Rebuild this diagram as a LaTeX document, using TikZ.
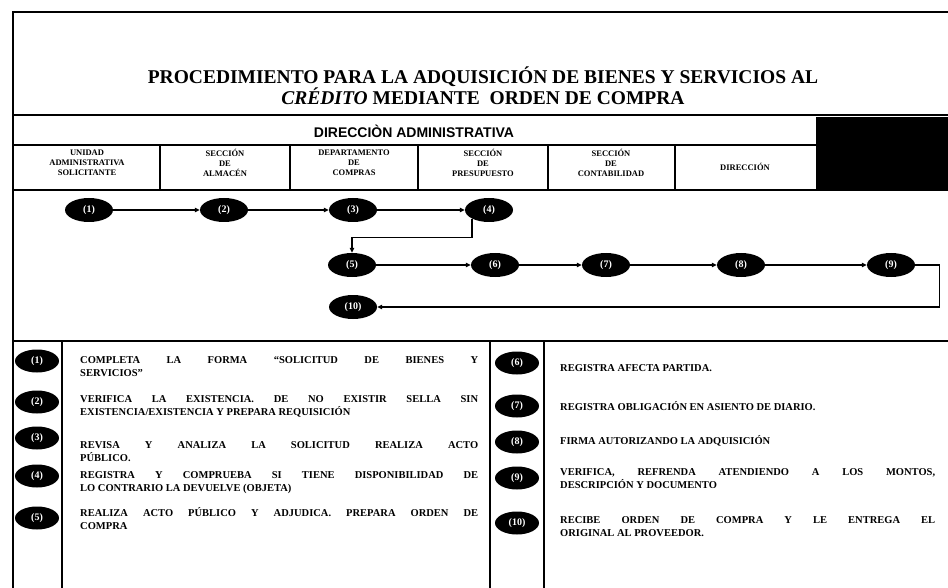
\documentclass[tikz,border=0pt]{standalone}
\usepackage{fontspec}
\setmainfont{Liberation Serif}
\newfontfamily\arialfont{Liberation Sans}
\usetikzlibrary{arrows.meta, positioning, calc, shapes.geometric}

\begin{document}
\begin{tikzpicture}[x=1pt, y=-1pt,
    paso/.style={ellipse, fill=black, text=white, inner sep=0pt,
                 minimum width=48pt, minimum height=24pt,
                 font=\fontsize{10}{10}\selectfont\bfseries},
    pasochico/.style={paso, minimum width=44pt, minimum height=23pt},
    flecha/.style={-{Triangle[length=5pt, width=4.5pt]}, line width=1.4pt},
    marco/.style={line width=1.8pt},
    encab/.style={align=center, inner sep=0pt,
                  font=\fontsize{8.5}{10}\selectfont\bfseries},
    texto/.style={align=justify, anchor=north west, inner sep=0pt,
                  font=\fontsize{10.5}{13}\selectfont\bfseries}
  ]
  \useasboundingbox (0,0) rectangle (948,588);
  \draw[marco] (948,12) -- (13,12) -- (13,588);
  \node[font=\fontsize{19.5}{21}\selectfont\bfseries, align=center] (titulo) at (483,86)
    {PROCEDIMIENTO PARA LA ADQUISICIÓN DE BIENES Y SERVICIOS AL\\
     \textit{CRÉDITO} MEDIANTE \ ORDEN DE COMPRA};
  \draw[marco] (13,115) -- (948,115);
  \fill (816,117) rectangle (948,190);
  \draw[marco] (13,145) -- (816,145);
  \node[font=\arialfont\fontsize{14}{14}\selectfont\bfseries] (direccion) at (414,131)
    {DIRECCIÒN ADMINISTRATIVA};
  \foreach \x in {160,290,418,548,675}
    \draw[marco] (\x,145) -- (\x,190);
  \draw[marco] (13,190) -- (948,190);
  \node[encab] (uas) at (87,163) {UNIDAD\\ADMINISTRATIVA\\SOLICITANTE};
  \node[encab] (alm) at (225,163) {SECCIÓN\\DE\\ALMACÉN};
  \node[encab] (com) at (354,163) {DEPARTAMENTO\\DE\\COMPRAS};
  \node[encab] (pre) at (483,163) {SECCIÓN\\DE\\PRESUPUESTO};
  \node[encab] (cont) at (611,163) {SECCIÓN\\DE\\CONTABILIDAD};
  \node[encab] (dir) at (745,167) {DIRECCIÓN};

  \node[paso] (p1) at (89,210) {(1)};
  \node[paso] (p2) at (224,210) {(2)};
  \node[paso] (p3) at (353,210) {(3)};
  \node[paso] (p4) at (489,210) {(4)};
  \node[paso] (p5) at (352,265) {(5)};
  \node[paso] (p6) at (495,265) {(6)};
  \node[paso] (p7) at (606,265) {(7)};
  \node[paso] (p8) at (741,265) {(8)};
  \node[paso] (p9) at (891,265) {(9)};
  \node[paso] (p10) at (353,307) {(10)};
  \draw[flecha] (p1) -- (p2);
  \draw[flecha] (p2) -- (p3);
  \draw[flecha] (p3) -- (p4);
  \draw[flecha] (p4.south west) |- ($(p5.north)+(0,-15)$) -- (p5.north);
  \draw[flecha] (p5) -- (p6);
  \draw[flecha] (p6) -- (p7);
  \draw[flecha] (p7) -- (p8);
  \draw[flecha] (p8) -- (p9);
  \draw[flecha] (p9.east) -- ++(24,0) |- (p10.east);

  \draw[marco] (13,341) -- (948,341);
  \foreach \x in {62,490,544}
    \draw[marco] (\x,341) -- (\x,588);
  \node[pasochico] (d1) at (37,361) {(1)};
  \node[pasochico] (d2) at (37,402) {(2)};
  \node[pasochico] (d3) at (37,438) {(3)};
  \node[pasochico] (d4) at (37,476) {(4)};
  \node[pasochico] (d5) at (37,518) {(5)};
  \node[pasochico] (d6) at (517,363) {(6)};
  \node[pasochico] (d7) at (517,406) {(7)};
  \node[pasochico] (d8) at (517,442) {(8)};
  \node[pasochico] (d9) at (517,478) {(9)};
  \node[pasochico] (d10) at (517,523) {(10)};
  \node[texto, text width=398pt] (t1) at (80,356)
    {COMPLETA LA FORMA ``SOLICITUD DE BIENES Y\linebreak SERVICIOS''};
  \node[texto, text width=398pt] (t2) at (80,395)
    {VERIFICA LA EXISTENCIA. DE NO EXISTIR SELLA SIN\linebreak
     EXISTENCIA/EXISTENCIA Y PREPARA REQUISICIÓN};
  \node[texto, text width=398pt] (t3) at (80,441)
    {REVISA Y ANALIZA LA SOLICITUD REALIZA ACTO\linebreak PÚBLICO.};
  \node[texto, text width=398pt] (t4) at (80,471)
    {REGISTRA Y COMPRUEBA SI TIENE DISPONIBILIDAD DE\linebreak
     LO CONTRARIO LA DEVUELVE (OBJETA)};
  \node[texto, text width=398pt] (t5) at (80,507)
    {REALIZA ACTO PÚBLICO Y ADJUDICA. PREPARA ORDEN DE\linebreak COMPRA};
  \node[texto, text width=375pt] (t6) at (560,364) {REGISTRA AFECTA PARTIDA.};
  \node[texto, text width=375pt] (t7) at (560,401)
    {REGISTRA OBLIGACIÓN EN ASIENTO DE DIARIO.};
  \node[texto, text width=375pt] (t8) at (560,435)
    {FIRMA AUTORIZANDO LA ADQUISICIÓN};
  \node[texto, text width=375pt] (t9) at (560,468)
    {VERIFICA, REFRENDA ATENDIENDO A LOS MONTOS,\linebreak
     DESCRIPCIÓN Y DOCUMENTO};
  \node[texto, text width=375pt] (t10) at (560,516)
    {RECIBE ORDEN DE COMPRA Y LE ENTREGA EL\linebreak
     ORIGINAL AL PROVEEDOR.};
\end{tikzpicture}
\end{document}
